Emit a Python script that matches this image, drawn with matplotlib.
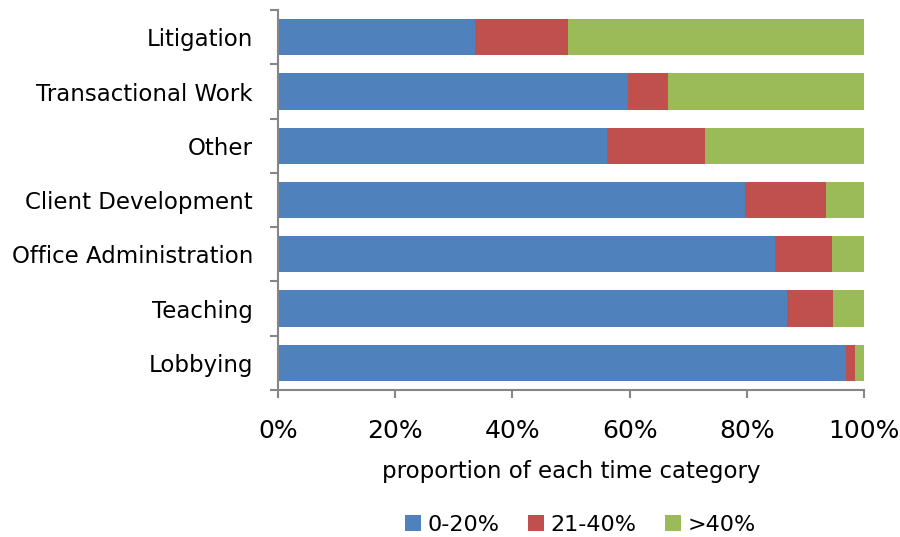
import numpy as np
import matplotlib.pyplot as plt
from matplotlib.ticker import PercentFormatter

categories = ['Litigation', 'Transactional Work', 'Other', 'Client Development',
              'Office Administration', 'Teaching', 'Lobbying']
low = [33.6, 59.7, 56.1, 79.7, 84.8, 86.9, 96.9]      # 0-20%
mid = [15.9, 6.9, 16.8, 13.8, 9.7, 7.8, 1.6]         # 21-40%
high = [50.5, 33.4, 27.1, 6.5, 5.5, 5.3, 1.5]        # >40%
series_names = ['0-20%', '21-40%', '>40%']
colors = ['#4F81BD', '#C0504D', '#9BBB59']

fig = plt.figure(figsize=(9, 5.37), dpi=100)
ax = fig.add_axes([0.309, 0.274, 0.651, 0.707])

y = np.arange(len(categories))[::-1]
left = np.zeros(len(categories))
for vals, name, col in zip([low, mid, high], series_names, colors):
    ax.barh(y, vals, left=left, height=0.67, color=col, label=name)
    left += np.array(vals)

ax.set_xlim(0, 100)
ax.set_ylim(-0.5, len(categories) - 0.5)
ax.set_xticks(np.arange(0, 101, 20))
ax.xaxis.set_major_formatter(PercentFormatter(decimals=0))
ax.set_yticks(y)
ax.set_yticklabels(categories)
ax.set_yticks(np.arange(-0.5, len(categories), 1), minor=True)

gray = '#868686'
for s in ['top', 'right']:
    ax.spines[s].set_visible(False)
for s in ['left', 'bottom']:
    ax.spines[s].set_color(gray)
    ax.spines[s].set_linewidth(1.5)
ax.tick_params(axis='y', which='major', length=0, pad=18, labelsize=16.5)
ax.tick_params(axis='y', which='minor', length=6, width=1.5, color=gray)
ax.tick_params(axis='x', length=6, width=1.5, color=gray, labelsize=18, pad=15)
ax.set_xlabel('proportion of each time category', fontsize=16.5, labelpad=12)

fig.legend(loc='center', bbox_to_anchor=(0.645, 1 - 525 / 537), ncol=3, frameon=False,
           fontsize=16, handlelength=0.7, handleheight=0.7, handletextpad=0.3,
           columnspacing=1.3)

fig.savefig('out.png')
